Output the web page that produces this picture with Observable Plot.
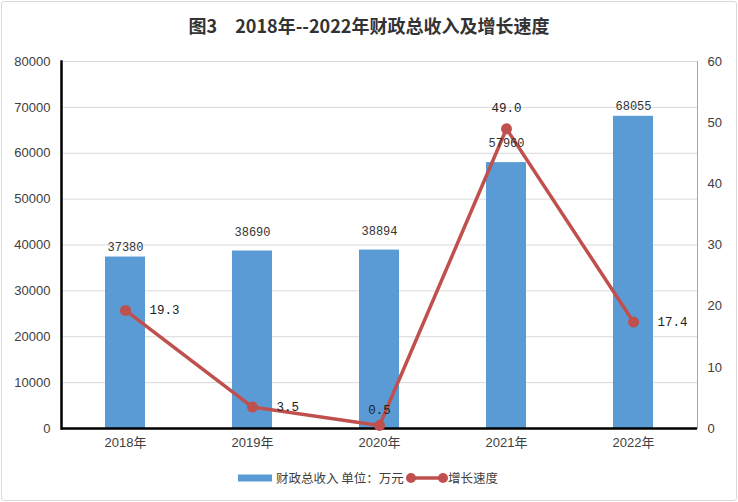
<!DOCTYPE html>
<html>
<head>
<meta charset="utf-8">
<script src="https://cdn.jsdelivr.net/npm/d3@7"></script>
<script src="https://cdn.jsdelivr.net/npm/@observablehq/plot@0.6"></script>
<style>
  html, body { margin: 0; padding: 0; background: #fff; }
  body { width: 738px; height: 502px; position: relative; overflow: hidden; font-family: "Noto Sans CJK SC", sans-serif; }
  #border { position: absolute; left: 1px; top: 1px; width: 734px; height: 498px; border: 1px solid #d9d9d9; border-radius: 3px; }
  #title { position: absolute; left: 0; top: 12px; width: 738px; text-align: center; font-size: 18px; font-weight: 700; color: #333; line-height: 26px; white-space: pre; }
  #chart { position: absolute; left: 0; top: 48px; }
  #legend { position: absolute; left: 0; top: 468px; width: 738px; height: 20px; font-size: 12.5px; color: #404040; }
  #legend .item { position: absolute; top: 0; line-height: 20px; white-space: pre; }
</style>
</head>
<body>
<div id="border"></div>
<div id="title"></div>
<div id="chart"></div>
<div id="legend"></div>
<script>
const title = "图3　2018年--2022年财政总收入及增长速度";
const years = ["2018年", "2019年", "2020年", "2021年", "2022年"];
const revenue = [37380, 38690, 38894, 57960, 68055];
const growth = [19.3, 3.5, 0.5, 49.0, 17.4];
const leftTicks = [0, 10000, 20000, 30000, 40000, 50000, 60000, 70000, 80000];
const rightTicks = [0, 10, 20, 30, 40, 50, 60];
const seriesNames = ["财政总收入 单位：万元", "增长速度"];

const BLUE = "#5B9BD5", RED = "#C0504D";
const K = 80000 / 60; // right axis (0–60) mapped onto left axis (0–80000)
const data = years.map((year, i) => ({year, revenue: revenue[i], growth: growth[i], g: growth[i] * K}));

document.getElementById("title").textContent = title;

const labelFont = "'Liberation Mono', 'DejaVu Sans Mono', monospace";
const highRev = new Set(["2019年", "2020年", "2021年"]);
const aboveG = new Set(["2020年", "2021年"]);

const chart = Plot.plot({
  width: 738,
  height: 410,
  marginTop: 13,
  marginBottom: 30,
  marginLeft: 61,
  marginRight: 41,
  style: {fontFamily: "'Liberation Sans', 'Noto Sans CJK SC', sans-serif", fontSize: "13px", color: "#404040", background: "transparent", overflow: "visible"},
  x: {domain: years, paddingInner: 0.685, paddingOuter: 0.3425, label: null},
  y: {domain: [0, 80000], label: null},
  marks: [
    Plot.gridY(leftTicks, {stroke: "#d9d9d9", strokeOpacity: 1}),
    Plot.frame({anchor: "right", stroke: "#a6a6a6", strokeWidth: 1}),
    Plot.barY(data, {x: "year", y: "revenue", fill: BLUE}),
    Plot.ruleY([0], {stroke: "#000", strokeWidth: 2.5}),
    Plot.frame({anchor: "left", stroke: "#000", strokeWidth: 2.5}),
    Plot.axisY(leftTicks, {anchor: "left", tickSize: 0, tickPadding: 11, label: null, tickFormat: d => String(d)}),
    Plot.axisY(rightTicks.map(v => v * K), {anchor: "right", tickSize: 0, tickPadding: 10, label: null, tickFormat: d => String(Math.round(d / K))}),
    Plot.axisX({tickSize: 0, tickPadding: 9, label: null}),
    Plot.line(data, {x: "year", y: "g", stroke: RED, strokeWidth: 3.5}),
    Plot.dot(data, {x: "year", y: "g", r: 5.5, fill: RED, stroke: "none"}),
    // revenue labels
    Plot.text(data.filter(d => !highRev.has(d.year)), {x: "year", y: "revenue", text: d => String(d.revenue), dy: -10, fontFamily: labelFont, fontSize: 12, fill: "#333"}),
    Plot.text(data.filter(d => highRev.has(d.year)), {x: "year", y: "revenue", text: d => String(d.revenue), dy: -19, fontFamily: labelFont, fontSize: 12, fill: "#333"}),
    // growth labels
    Plot.text(data.filter(d => !aboveG.has(d.year)), {x: "year", y: "g", text: d => d.growth.toFixed(1), dx: 24, textAnchor: "start", fontFamily: labelFont, fontSize: 12.5, fill: "#222"}),
    Plot.text(data.filter(d => d.year === "2020年"), {x: "year", y: "g", text: d => d.growth.toFixed(1), dy: -15, fontFamily: labelFont, fontSize: 12.5, fill: "#222"}),
    Plot.text(data.filter(d => d.year === "2021年"), {x: "year", y: "g", text: d => d.growth.toFixed(1), dy: -21, fontFamily: labelFont, fontSize: 12.5, fill: "#222"})
  ]
});
document.getElementById("chart").appendChild(chart);

// legend
const legend = document.getElementById("legend");
legend.innerHTML = `
  <svg width="738" height="20" style="position:absolute;left:0;top:0">
    <rect x="238" y="6.5" width="34" height="7" fill="${BLUE}"></rect>
    <line x1="411" y1="10" x2="443" y2="10" stroke="${RED}" stroke-width="3.5"></line>
    <circle cx="411" cy="10" r="5" fill="${RED}"></circle>
    <circle cx="443" cy="10" r="5" fill="${RED}"></circle>
  </svg>
  <div class="item" style="left:276px">${seriesNames[0]}</div>
  <div class="item" style="left:448px">${seriesNames[1]}</div>`;
</script>
</body>
</html>
